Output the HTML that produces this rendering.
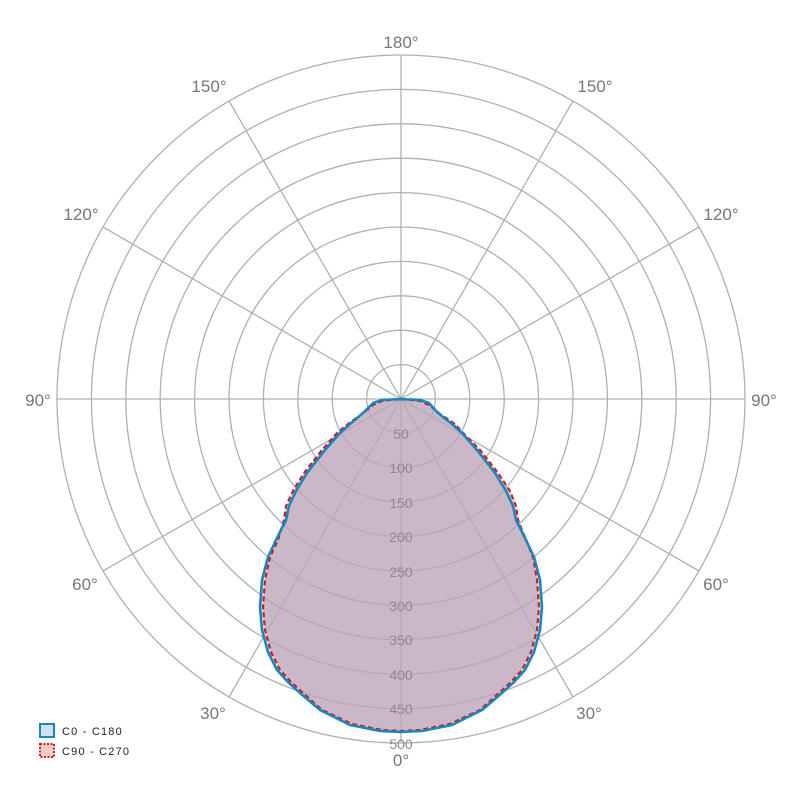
<!DOCTYPE html>
<html><head><meta charset="utf-8"><style>
html,body{margin:0;padding:0;background:#fff;}
svg{display:block;font-family:"Liberation Sans",sans-serif;}
</style></head><body>
<svg width="802" height="802" viewBox="0 0 802 802">
<g fill="none" stroke="#b0b0b0" stroke-width="1.3">
<circle cx="401" cy="399" r="34.4"/><circle cx="401" cy="399" r="68.8"/><circle cx="401" cy="399" r="103.2"/>
<circle cx="401" cy="399" r="137.6"/><circle cx="401" cy="399" r="172"/><circle cx="401" cy="399" r="206.4"/>
<circle cx="401" cy="399" r="240.8"/><circle cx="401" cy="399" r="275.2"/><circle cx="401" cy="399" r="309.6"/>
<circle cx="401" cy="399" r="344"/>
<line x1="401" y1="55" x2="401" y2="743"/><line x1="57" y1="399" x2="745" y2="399"/>
<line x1="229" y1="101" x2="573" y2="697"/><line x1="573" y1="101" x2="229" y2="697"/>
<line x1="103" y1="227" x2="699" y2="571"/><line x1="699" y1="227" x2="103" y2="571"/>
</g>
<path d="M401,399 L420,400 L429,403 L438,413 L452,424 L462,433 L477,450 L495,473 L506,491 L513,506 L516,520 L526,540 L534,557 L540,580 L542,607 L540,630 L534,652 L525,670 L514,682 L502,693 L482,710 L452,725 L422,731 L401,732 L380,731 L350,725 L320,710 L300,693 L288,682 L277,670 L268,652 L262,630 L260,607 L262,580 L268,557 L276,540 L286,520 L289,506 L296,491 L307,473 L325,450 L340,433 L350,424 L363,413 L373,403 L382,400 Z" fill="rgba(180,200,220,0.5)" stroke="none"/>
<path d="M401,399 L420,401 L429,405 L440,414 L455,424 L465,435 L480,450 L498,473 L510,491 L516,506 L518,520 L526,540 L533,557 L537,580 L539,607 L537,630 L531,652 L522,670 L511,682 L499,693 L480,710 L450,724 L420,730 L401,731 L382,730 L352,724 L322,710 L303,693 L291,682 L280,670 L271,652 L265,630 L263,607 L265,580 L270,557 L278,540 L284,520 L286,506 L293,491 L304,473 L322,450 L337,433 L348,424 L362,414 L373,405 L382,401 Z" fill="rgba(190,150,170,0.55)" stroke="#cc1f1f" stroke-width="2.2" stroke-dasharray="5,3"/>
<path d="M401,399 L420,400 L429,403 L438,413 L452,424 L462,433 L477,450 L495,473 L506,491 L513,506 L516,520 L526,540 L534,557 L540,580 L542,607 L540,630 L534,652 L525,670 L514,682 L502,693 L482,710 L452,725 L422,731 L401,732 L380,731 L350,725 L320,710 L300,693 L288,682 L277,670 L268,652 L262,630 L260,607 L262,580 L268,557 L276,540 L286,520 L289,506 L296,491 L307,473 L325,450 L340,433 L350,424 L363,413 L373,403 L382,400 Z" fill="none" stroke="#1a86c0" stroke-width="2.6" stroke-linejoin="round"/>
<g fill="#8a8a8a" font-size="14" text-anchor="middle">
<text x="401" y="439">50</text><text x="401" y="473">100</text><text x="401" y="508">150</text>
<text x="401" y="542">200</text><text x="401" y="577">250</text><text x="401" y="611">300</text>
<text x="401" y="645">350</text><text x="401" y="680">400</text><text x="401" y="714">450</text>
<text x="401" y="749">500</text>
</g>
<g fill="#777" font-size="17" text-anchor="middle">
<text x="401" y="48">180°</text>
<text x="209" y="92">150°</text><text x="595" y="92">150°</text>
<text x="81" y="220">120°</text><text x="721" y="220">120°</text>
<text x="38" y="406">90°</text><text x="764" y="406">90°</text>
<text x="85" y="590">60°</text><text x="716" y="590">60°</text>
<text x="213" y="719">30°</text><text x="589" y="719">30°</text>
<text x="401" y="766">0°</text>
</g>
<rect x="40" y="724" width="14" height="13" fill="#cde4f3" stroke="#1a86c0" stroke-width="2"/>
<rect x="40" y="744" width="14" height="13" fill="#f5cccc" stroke="#cc1f1f" stroke-width="2" stroke-dasharray="2,1.5"/>
<g font-size="11" fill="#222" letter-spacing="1.2">
<text x="62" y="735">C0 - C180</text>
<text x="62" y="755">C90 - C270</text>
</g>
</svg>
</body></html>
